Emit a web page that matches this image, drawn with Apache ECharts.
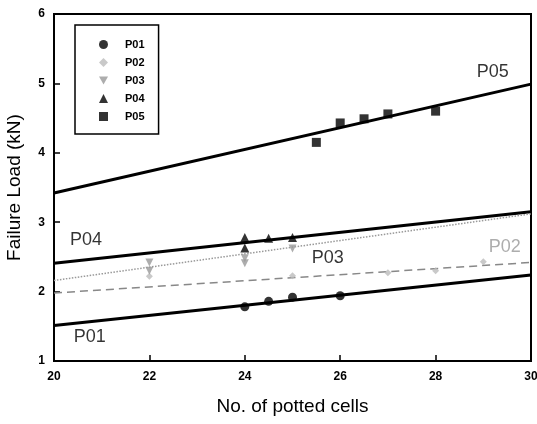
<!DOCTYPE html>
<html><head><meta charset="utf-8">
<script src="https://cdn.jsdelivr.net/npm/echarts@6/dist/echarts.min.js"></script>
<style>html,body{margin:0;padding:0;background:#fff}#c{width:537px;height:424px}</style>
</head><body><div id="c"></div>
<script>
var xTicks = [20, 22, 24, 26, 28, 30];
var yTicks = [1, 2, 3, 4, 5, 6];
var P01 = [[24, 1.78], [24.5, 1.86], [25, 1.92], [26, 1.94]];
var P02 = [[22, 2.22], [25, 2.23], [27, 2.27], [28, 2.3], [29, 2.43]];
var P03 = [[22, 2.42], [22, 2.3], [24, 2.48], [24, 2.41], [25, 2.62]];
var P04 = [[24, 2.78], [24, 2.63], [24.5, 2.77], [25, 2.78]];
var P05 = [[25.5, 4.15], [26, 4.43], [26.5, 4.49], [27, 4.56], [28, 4.6]];
var fitP01 = [[20, 1.51], [30, 2.24]];
var fitP02 = [[20, 1.98], [30, 2.42]];
var fitP03 = [[20, 2.16], [30, 3.12]];
var fitP04 = [[20, 2.41], [30, 3.15]];
var fitP05 = [[20, 3.42], [30, 4.99]];
var labelsP = [
  {name: 'P05', value: [29.2, 5.16]},
  {name: 'P04', value: [20.67, 2.74]},
  {name: 'P03', value: [25.74, 2.48]},
  {name: 'P02', value: [29.45, 2.64]},
  {name: 'P01', value: [20.75, 1.35]}
];
var chart = echarts.init(document.getElementById('c'));
var F = 'Liberation Sans, Arial, sans-serif';
function fit(name, data, color, width, type) {
  return {name: name, type: 'line', data: data, symbol: 'none', silent: true,
    lineStyle: {color: color, width: width, type: type}, z: 2};
}
function sc(name, data, symbol, size, color) {
  return {name: name, type: 'scatter', data: data, symbol: symbol, symbolSize: size,
    itemStyle: {color: color}, z: 3};
}
chart.setOption({
  animation: false,
  grid: {left: 54, top: 14, right: 6, bottom: 63, show: true, borderColor: '#000', borderWidth: 2,
    containLabel: false, outerBoundsMode: 'none'},
  legend: {
    orient: 'vertical', left: 75, top: 25,
    data: ['P01', 'P02', 'P03', 'P04', 'P05'],
    borderColor: '#000', borderWidth: 1.5, padding: [14, 14, 12, 24],
    itemWidth: 9, itemHeight: 9, itemGap: 7,
    textStyle: {fontFamily: F, fontWeight: 'bold', fontSize: 11, color: '#000', padding: [0, 0, 0, 12]}
  },
  xAxis: {
    type: 'value', min: 20, max: 30, interval: 2,
    name: 'No. of potted cells', nameLocation: 'middle', nameGap: 36,
    nameTextStyle: {fontFamily: F, fontSize: 19, color: '#000'},
    axisLine: {lineStyle: {color: '#000', width: 2}},
    axisTick: {inside: true, length: 6, lineStyle: {color: '#000', width: 1.5}},
    axisLabel: {fontFamily: F, fontWeight: 'bold', fontSize: 12, color: '#000', margin: 10,
      formatter: function (v) { return xTicks.indexOf(v) >= 0 ? String(v) : ''; }},
    splitLine: {show: false}
  },
  yAxis: {
    type: 'value', min: 1, max: 6, interval: 1,
    name: 'Failure Load (kN)', nameLocation: 'middle', nameGap: 30,
    nameTextStyle: {fontFamily: F, fontSize: 19, color: '#000'},
    axisLine: {show: true, lineStyle: {color: '#000', width: 2}},
    axisTick: {show: true, inside: true, length: 6, lineStyle: {color: '#000', width: 1.5}},
    axisLabel: {fontFamily: F, fontWeight: 'bold', fontSize: 12, color: '#000', margin: 9,
      formatter: function (v) { return yTicks.indexOf(v) >= 0 ? String(v) : ''; }},
    splitLine: {show: false}
  },
  series: [
    fit('fit P05', fitP05, '#000', 3, 'solid'),
    fit('fit P04', fitP04, '#000', 3, 'solid'),
    fit('fit P03', fitP03, '#999', 1.5, 'dotted'),
    fit('fit P02', fitP02, '#888', 1.5, [8, 5]),
    fit('fit P01', fitP01, '#000', 3, 'solid'),
    sc('P01', P01, 'circle', 9, '#000'),
    sc('P02', P02, 'diamond', 7, '#bbb'),
    sc('P03', P03, 'path://M0,0 L10,0 L5,9 Z', 8, '#999'),
    sc('P04', P04, 'triangle', 9, '#000'),
    sc('P05', P05, 'rect', 9, '#000'),
    {type: 'scatter', silent: true, z: 4, symbolSize: 0,
      data: labelsP.map(function (d) {
        return d.name === 'P02' ? {name: d.name, value: d.value, label: {color: '#999'}} : d;
      }),
      label: {show: true, position: 'inside', fontFamily: F, fontSize: 18, color: '#000',
        formatter: function (p) { return p.name; }},
      itemStyle: {color: 'transparent'},
      emphasis: {disabled: true}
    }
  ]
});
</script></body></html>
